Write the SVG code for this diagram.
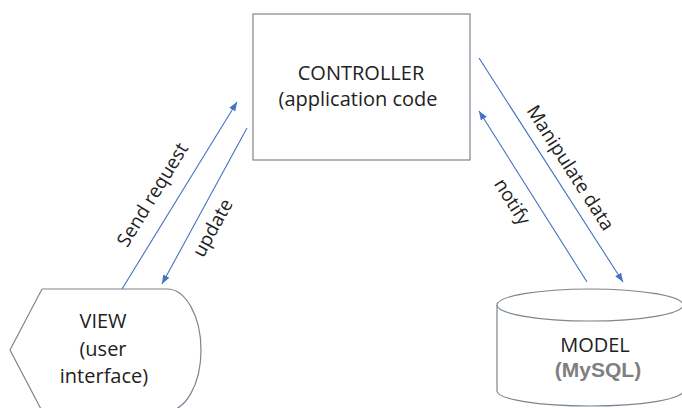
<svg xmlns="http://www.w3.org/2000/svg" width="682" height="408" viewBox="0 0 682 408">
  <defs>
    <marker id="arrow" viewBox="0 0 9 7" refX="9" refY="3.5" markerWidth="9" markerHeight="7" markerUnits="userSpaceOnUse" orient="auto">
      <path d="M0,0 L9,3.5 L0,7 Z" fill="#4472c4"/>
    </marker>
    <style>
      .shape { fill: #ffffff; stroke: #7c8591; stroke-width: 1.2; }
      .node-text { font-family: "Open Sans", "Noto Sans", sans-serif; font-size: 20px; fill: #222222; text-anchor: middle; }
      .db-text { font-family: "Liberation Sans", Arial, sans-serif; font-size: 21px; font-weight: bold; fill: #7f7f7f; text-anchor: middle; }
      .link { fill: none; stroke: #4472c4; stroke-width: 1.1; marker-end: url(#arrow); }
      .link-text { font-family: "Open Sans", "Noto Sans", sans-serif; font-size: 19px; fill: #222222; text-anchor: middle; }
    </style>
  </defs>
  <rect width="682" height="408" fill="#ffffff"/>

  <!-- Controller -->
  <g id="controller">
    <rect class="shape" x="253" y="14" width="217" height="146"/>
    <text class="node-text" x="361" y="80">CONTROLLER</text>
    <text class="node-text" x="358" y="106">(application code</text>
  </g>

  <!-- View (display shape) -->
  <g id="view">
    <path class="shape" d="M42,289 L167,289 A34,61 0 0 1 167,411 L42,411 L10,350 Z"/>
    <text class="node-text" x="103" y="328">VIEW</text>
    <text class="node-text" x="103" y="356">(user</text>
    <text class="node-text" x="104" y="383">interface)</text>
  </g>

  <!-- Model (database cylinder) -->
  <g id="model">
    <path class="shape" d="M497,305 L497,391 A93,15 0 0 0 683,391 L683,305"/>
    <ellipse class="shape" cx="590" cy="305" rx="93" ry="16"/>
    <text class="node-text" x="595" y="352">MODEL</text>
    <text class="db-text" x="598" y="377">(MySQL)</text>
  </g>

  <!-- Connectors -->
  <g id="connectors">
    <line class="link" x1="122" y1="289" x2="237" y2="102"/>
    <line class="link" x1="247" y1="128" x2="162" y2="284"/>
    <line class="link" x1="479" y1="58" x2="623" y2="282"/>
    <line class="link" x1="587" y1="282" x2="479" y2="111"/>
    <text class="link-text" transform="translate(153,195) rotate(-58.4)" y="6">Send request</text>
    <text class="link-text" transform="translate(213,228) rotate(-61.4)" y="6">update</text>
    <text class="link-text" transform="translate(570,168) rotate(57.3)" y="6">Manipulate data</text>
    <text class="link-text" transform="translate(512,202) rotate(57.7)" y="6">notify</text>
  </g>
</svg>
